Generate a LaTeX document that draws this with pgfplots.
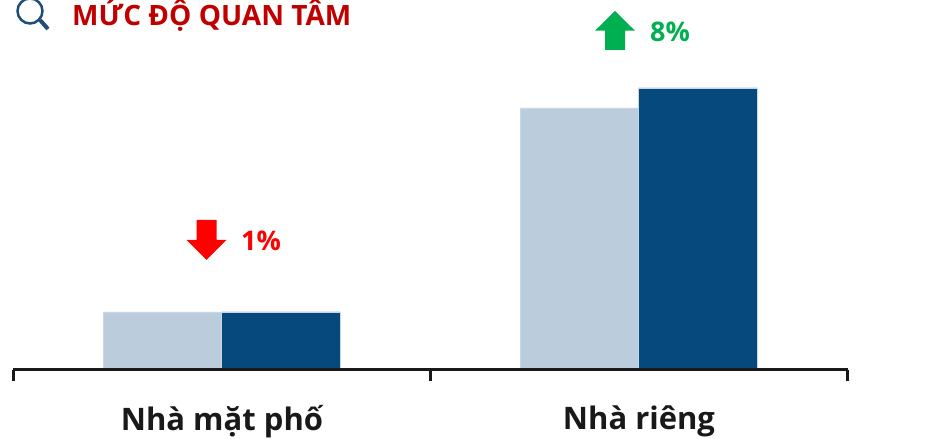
\documentclass[border=0pt]{standalone}
\usepackage{pgfplots}
\pgfplotsset{compat=1.18}
\usepackage{fontspec}
\setmainfont{Open Sans}
\definecolor{lightbar}{HTML}{BBCDDC}
\definecolor{darkbar}{HTML}{064A7D}
\definecolor{baredge}{HTML}{C9D7E4}
\definecolor{titlered}{HTML}{C00000}
\definecolor{upgreen}{HTML}{00B050}
\definecolor{iconblue}{HTML}{1F4E79}
\begin{document}
\begin{tikzpicture}[x=1pt,y=1pt]
\clip (0,0) rectangle (943,439);
\useasboundingbox (0,0) rectangle (943,439);
\begin{axis}[
  at={(13.5pt,69.3pt)}, anchor=south west,
  scale only axis, width=834pt, height=320pt,
  xmin=-0.5, xmax=1.5, ymin=0, ymax=320,
  axis y line=none, axis x line=bottom,
  axis on top,
  axis line style={-, line width=3pt, color=black!90},
  xtick={0,1},
  xticklabels={Nhà mặt phố, Nhà riêng},
  major tick length=0pt,
  minor xtick={-0.5,0.5,1.5},
  minor tick length=11.5pt,
  tick align=outside,
  xtick pos=bottom,
  minor tick style={line width=3pt, color=black!90},
  typeset ticklabels with strut,
  x tick label style={font=\fontsize{31}{31}\selectfont\bfseries, text=black!90, yshift=-32.5pt},
  clip=false,
]
\addplot[ybar, bar width=118.5pt, bar shift=-59.5pt, fill=lightbar, draw=baredge, line width=0.6pt]
  coordinates {(0,57.7) (1,261.7)};
\addplot[ybar, bar width=118.5pt, bar shift=59pt, fill=darkbar, draw=baredge, line width=0.6pt]
  coordinates {(0,57.7) (1,281.7)};
\end{axis}
% title and icon
\node[anchor=base west, inner sep=0, font=\fontsize{28}{28}\selectfont\bfseries, text=titlered] at (72,413.5) {MỨC ĐỘ QUAN TÂM};
\draw[iconblue, line width=2.5pt] (30,428) circle (12.5);
\draw[iconblue, line width=4pt] (40,419) -- (48,410);
% up arrow
\fill[upgreen] (615,428) -- (635,408.3) -- (625,408.3) -- (625,389) -- (605,389) -- (605,408.3) -- (595,408.3) -- cycle;
\node[anchor=base west, inner sep=0, font=\fontsize{27}{27}\selectfont\bfseries, text=upgreen] at (650,397) {8\%};
% down arrow
\fill[red] (206.5,179) -- (226.5,199) -- (216.5,199) -- (216.5,219) -- (196.5,219) -- (196.5,199) -- (186.5,199) -- cycle;
\node[anchor=base west, inner sep=0, font=\fontsize{27}{27}\selectfont\bfseries, text=red] at (241,188.5) {1\%};
\end{tikzpicture}
\end{document}
